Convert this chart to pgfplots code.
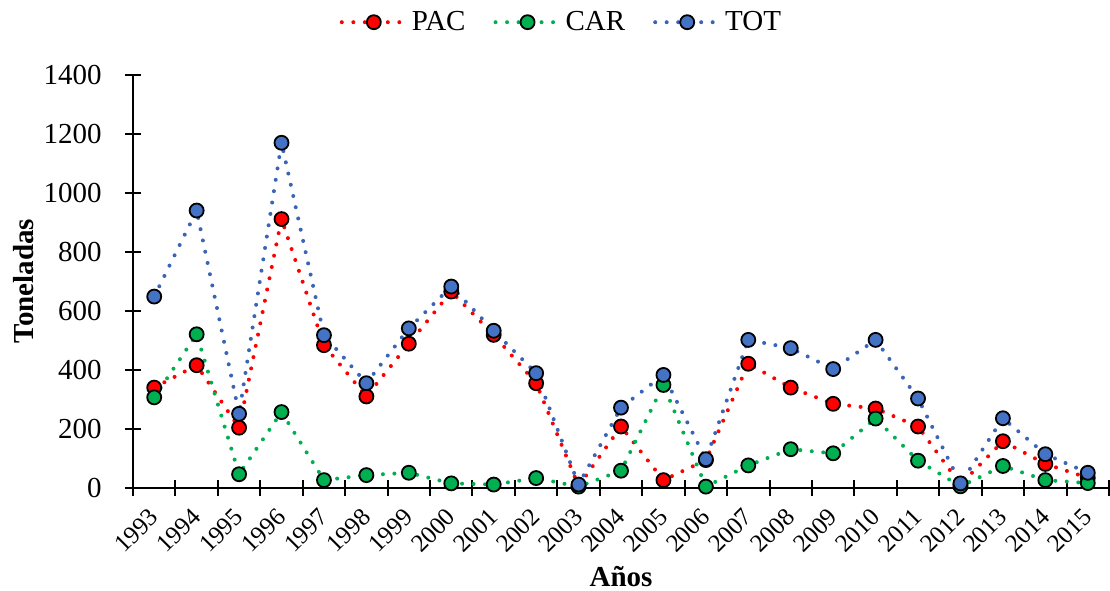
\documentclass[border=0pt]{standalone}
\usepackage{fontspec}
\setmainfont{Liberation Serif}
\usepackage{pgfplots}
\pgfplotsset{compat=1.18}
\definecolor{cpac}{RGB}{255,0,0}
\definecolor{ccar}{RGB}{0,176,80}
\definecolor{ctot}{RGB}{68,114,196}
\definecolor{ctotl}{RGB}{58,100,182}
\newcommand{\fs}{\fontsize{14.5pt}{17pt}\selectfont}
\begin{document}
\begin{tikzpicture}
\begin{axis}[
  scale only axis, width=488pt, height=206.25pt,
  xmin=-0.5, xmax=22.5, ymin=0, ymax=1400,
  axis x line=bottom, axis y line=left,
  axis line style={-, line width=1pt, black},
  xtick={0,...,22},
  xticklabels={1993,1994,1995,1996,1997,1998,1999,2000,2001,2002,2003,2004,2005,2006,2007,2008,2009,2010,2011,2012,2013,2014,2015},
  minor xtick={-0.5,0.5,...,22.5},
  major x tick style={draw=none},
  ytick={0,200,...,1400},
  tick align=center,
  major tick length=8pt, minor tick length=8pt,
  every tick/.style={line width=1pt, black},
  ticklabel style={font=\fs},
  /pgf/number format/assume math mode=true,
  /pgf/number format/1000 sep={},
  xticklabel style={font=\fontsize{12.5pt}{14pt}\selectfont, yshift=-8.5pt, xshift=0pt, rotate=45, anchor=east, inner sep=0pt},
  yticklabel style={xshift=-8.2pt},
  xlabel={\textbf{Años}},
  xlabel style={font=\fs, at={(axis description cs:0.5,0)}, anchor=center, yshift=-44.5pt},
  ylabel={\textbf{Toneladas}},
  ylabel style={font=\fs, at={(axis description cs:-0.112,0.5)}, anchor=center, rotate=0},
  legend columns=-1,
  legend style={draw=none, fill=none, font=\fs, at={(axis description cs:0.44,1.128)}, anchor=center,
    /tikz/every even column/.append style={column sep=12pt}},
  legend image code/.code={\draw[mark repeat=2, mark phase=2] plot coordinates {(0pt,0pt) (16pt,0pt) (32pt,0pt)};},
  every axis plot/.append style={line width=2pt, line cap=round, dash pattern=on 0pt off 5.75pt,
     mark=*, mark size=3.5pt},
  clip=false,
]
\addplot[color=cpac, mark options={solid, fill=cpac, draw=black, line width=0.9pt}] coordinates {
(0,339) (1,415) (2,203) (3,911) (4,483) (5,309) (6,488) (7,665) (8,518) (9,354) (10,5) (11,207)
(12,25) (13,93) (14,420) (15,339) (16,284) (17,268) (18,207) (19,10) (20,157) (21,80) (22,33)};
\addlegendentry{PAC}
\addplot[color=ccar, mark options={solid, fill=ccar, draw=black, line width=0.9pt}] coordinates {
(0,306) (1,520) (2,45) (3,256) (4,25) (5,42) (6,50) (7,14) (8,10) (9,32) (10,3) (11,57)
(12,348) (13,3) (14,75) (15,130) (16,116) (17,234) (18,91) (19,4) (20,73) (21,25) (22,15)};
\addlegendentry{CAR}
\addplot[color=ctotl, mark options={solid, fill=ctot, draw=black, line width=0.9pt}] coordinates {
(0,648) (1,940) (2,250) (3,1170) (4,517) (5,354) (6,540) (7,682) (8,532) (9,388) (10,10) (11,271)
(12,382) (13,96) (14,501) (15,473) (16,402) (17,501) (18,302) (19,14) (20,235) (21,113) (22,50)};
\addlegendentry{TOT}
\end{axis}
\pgfresetboundingbox
\useasboundingbox (-66.5pt,-51.25pt) rectangle (488.5pt,243.75pt);
\end{tikzpicture}
\end{document}
